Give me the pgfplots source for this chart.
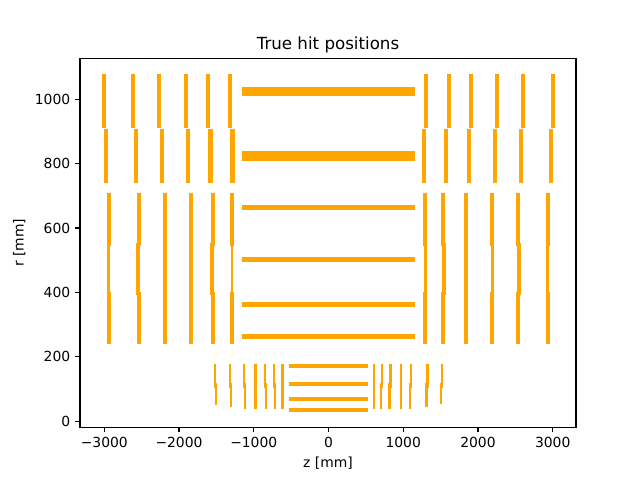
\documentclass[border=0pt]{standalone}
\usepackage{fontspec}
\setmainfont{DejaVu Sans}
\usepackage{pgfplots}
\pgfplotsset{compat=1.18}
\definecolor{hit}{RGB}{255,165,0}

\begin{document}
\begin{tikzpicture}
\path[use as bounding box] (-57.6pt,-38.016pt) rectangle (403.2pt,307.584pt);
\begin{axis}[
  at={(0,0)}, anchor=south west,
  scale only axis, width=357.12pt, height=265.68pt,
  xmin=-3325, xmax=3312, ymin=-18.5, ymax=1127,
  xtick={-3000,-2000,-1000,0,1000,2000,3000},
  xticklabels={−3000,−2000,−1000,0,1000,2000,3000},
  ytick={0,200,400,600,800,1000},
  tick pos=left, tick align=outside,
  major tick length=3.5pt,
  every tick/.style={black, line width=0.8pt},
  axis line style={line width=0.8pt},
  ticklabel style={font=\fontsize{10}{12}\selectfont},
  /pgf/number format/assume math mode=true,
  /pgf/number format/1000 sep={},
  title={True hit positions},
  every axis title shift=0pt,
  title style={font=\fontsize{12}{14}\selectfont, at={(0.5,1)}, anchor=base, yshift=6pt},
  xlabel={z [mm]}, ylabel={r [mm]},
  label style={font=\fontsize{10}{12}\selectfont},
  unbounded coords=jump,
  every axis plot/.append style={color=hit, no markers},
]
% ---- long strip barrel
\addplot[line width=7pt] coordinates {
  (-1157,1024) (1157,1024) (0,nan)
  (-1157,823) (1157,823)};
% ---- short strip barrel
\addplot[line width=3.6pt] coordinates {
  (-1157,663) (1157,663) (0,nan)
  (-1157,501) (1157,501) (0,nan)
  (-1157,362) (1157,362) (0,nan)
  (-1157,263) (1157,263)};
% ---- pixel barrel
\addplot[line width=2.65pt] coordinates {
  (-528,172) (525,172) (0,nan)
  (-528,116) (525,116) (0,nan)
  (-528,69) (525,69) (0,nan)
  (-528,34) (525,34)};
% ---- long strip endcaps, outer ring
\addplot[line width=3.1pt] coordinates {
  (-3004,910) (-3004,1076.6) (0,nan)
  (-2612,910) (-2612,1076.6) (0,nan)
  (-2264,910) (-2264,1076.6) (0,nan)
  (-1907,910) (-1907,1076.6) (0,nan)
  (-1613,910) (-1613,1076.6) (0,nan)
  (-1314,910) (-1314,1076.6) (0,nan)
  (1309,910) (1309,1076.6) (0,nan)
  (1612,910) (1612,1076.6) (0,nan)
  (1907,910) (1907,1076.6) (0,nan)
  (2259,910) (2259,1076.6) (0,nan)
  (2607,910) (2607,1076.6) (0,nan)
  (3004,910) (3004,1076.6)};
% ---- long strip endcaps, inner ring
\addplot[line width=3.1pt] coordinates {
  (-2977,739.6) (-2977,906) (0,nan)
  (-2576,739.6) (-2576,906) (0,nan)
  (-2228,739.6) (-2228,906) (0,nan)
  (-1882,739.6) (-1882,906) (0,nan)
  (-1579,739.6) (-1579,906) (0,nan)
  (-1285,739.6) (-1285,906) (0,nan)
  (1282,739.6) (1282,906) (0,nan)
  (1577,739.6) (1577,906) (0,nan)
  (1880,739.6) (1880,906) (0,nan)
  (2228,739.6) (2228,906) (0,nan)
  (2576,739.6) (2576,906) (0,nan)
  (2977,739.6) (2977,906)};
% ---- short strip endcaps, outer and inner rings
\addplot[line width=2.9pt] coordinates {
  (-2941,543.4) (-2941,708.6) (0,nan) (-2941,238.7) (-2941,401.7) (0,nan)
  (-2540,543.4) (-2540,708.6) (0,nan) (-2540,238.7) (-2540,401.7) (0,nan)
  (-2192,543.4) (-2192,708.6) (0,nan) (-2192,238.7) (-2192,401.7) (0,nan)
  (-1844,543.4) (-1844,708.6) (0,nan) (-1844,238.7) (-1844,401.7) (0,nan)
  (-1542,543.4) (-1542,708.6) (0,nan) (-1542,238.7) (-1542,401.7) (0,nan)
  (-1291,543.4) (-1291,708.6) (0,nan) (-1291,238.7) (-1291,401.7) (0,nan)
  (1291,543.4) (1291,708.6) (0,nan) (1291,238.7) (1291,401.7) (0,nan)
  (1537,543.4) (1537,708.6) (0,nan) (1537,238.7) (1537,401.7) (0,nan)
  (1836,543.4) (1836,708.6) (0,nan) (1836,238.7) (1836,401.7) (0,nan)
  (2188,543.4) (2188,708.6) (0,nan) (2188,238.7) (2188,401.7) (0,nan)
  (2531,543.4) (2531,708.6) (0,nan) (2531,238.7) (2531,401.7) (0,nan)
  (2933,543.4) (2933,708.6) (0,nan) (2933,238.7) (2933,401.7)};
% ---- short strip endcaps, middle ring
\addplot[line width=2.9pt] coordinates {
  (-2553,391.5) (-2553,551.8) (0,nan)
  (-2192,391.5) (-2192,551.8) (0,nan)
  (-1844,391.5) (-1844,551.8) (0,nan)
  (-1555,391.5) (-1555,551.8) (0,nan)
  (1550,391.5) (1550,551.8) (0,nan)
  (1836,391.5) (1836,551.8) (0,nan)
  (2544,391.5) (2544,551.8)};
\addplot[line width=2pt] coordinates {
  (-2943,391.5) (-2943,551.8) (0,nan)
  (-1291,391.5) (-1291,551.8) (0,nan)
  (1293,391.5) (1293,551.8) (0,nan)
  (2190,391.5) (2190,551.8) (0,nan)
  (2935,391.5) (2935,551.8)};
% ---- pixel endcaps, outer ring
\addplot[line width=1.65pt] coordinates {
  (-1521,102) (-1521,177.6) (0,nan)
  (-1318,102) (-1318,177.6) (0,nan)
  (-1126,102) (-1126,177.6) (0,nan)
  (-845,102) (-845,177.6) (0,nan)
  (-725,102) (-725,177.6) (0,nan)
  (718,102) (718,177.6) (0,nan)
  (830,102) (830,177.6) (0,nan)
  (1106,102) (1106,177.6) (0,nan)
  (1325,102) (1325,177.6) (0,nan)
  (1521,102) (1521,177.6)};
% ---- pixel endcaps, inner ring
\addplot[line width=1.65pt] coordinates {
  (-1508,50.5) (-1508,118) (0,nan)
  (-1305,43.4) (-1305,118) (0,nan)
  (-1113,38) (-1113,118) (0,nan)
  (-832,38) (-832,118) (0,nan)
  (-712,38) (-712,118) (0,nan)
  (705,38) (705,118) (0,nan)
  (817,38) (817,118) (0,nan)
  (1093,38) (1093,118) (0,nan)
  (1312,45) (1312,118) (0,nan)
  (1508,52.6) (1508,118)};
% ---- pixel endcaps, single piece
\addplot[line width=1.65pt] coordinates {
  (-977,38) (-977,177.6) (0,nan)
  (-616,38) (-616,177.6) (0,nan)
  (611,38) (611,177.6) (0,nan)
  (972,38) (972,177.6)};
\end{axis}
\end{tikzpicture}
\end{document}
